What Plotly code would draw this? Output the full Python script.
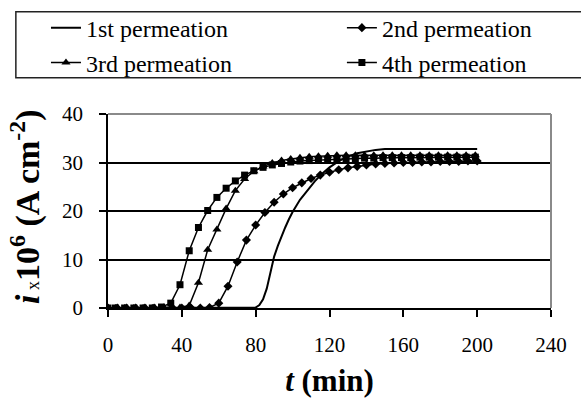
import plotly.graph_objects as go

# ---- data ----
t_sq_tri = [0, 4, 9, 14, 19, 24, 29, 34, 39, 44, 49, 54, 59, 64, 69, 74, 79, 84, 89, 94,
            99, 104, 109, 114, 119, 124, 129, 134, 139, 144, 149, 154, 159, 164, 169, 174,
            179, 184, 189, 194, 199]
t_dia = [0, 5, 10, 15, 20, 25, 30, 35, 40, 45, 50, 55, 60, 65, 70, 75, 80, 85, 90, 95, 100,
         105, 110, 115, 120, 125, 130, 135, 140, 145, 150, 155, 160, 165, 170, 175, 180, 185,
         190, 195, 200]
t_first = [0, 20, 40, 60, 78, 80, 82, 84, 86, 88, 90, 92, 94, 96, 98, 100, 104, 108, 112, 116,
           120, 125, 130, 135, 140, 145, 150, 160, 170, 180, 190, 200]

i_first = [0, 0, 0, 0, 0, 0.1, 0.6, 1.8, 4.0, 7.5, 10.6, 12.8, 14.8, 16.6, 18.3, 19.8, 22.3,
           24.3, 26.1, 27.7, 29.0, 30.3, 31.2, 31.9, 32.3, 32.6, 32.8, 32.8, 32.8, 32.8, 32.8,
           32.8]
i_second = [0, 0, 0, 0, 0, 0, 0, 0, 0, 0, 0, 0.1, 1.0, 4.5, 9.5, 14.0, 17.1, 19.7, 21.8, 23.5,
            24.8, 25.8, 26.7, 27.4, 28.0, 28.5, 28.9, 29.2, 29.5, 29.7, 29.8, 29.9, 30.0, 30.0,
            30.1, 30.1, 30.2, 30.2, 30.2, 30.3, 30.3]
i_third = [0, 0, 0, 0, 0, 0, 0, 0, 0.1, 0.5, 5.2, 12.0, 16.2, 20.5, 24.2, 26.6, 28.2, 29.2,
           29.9, 30.4, 30.7, 31.0, 31.2, 31.3, 31.4, 31.5, 31.5, 31.5, 31.5, 31.5, 31.5, 31.5,
           31.5, 31.5, 31.5, 31.5, 31.5, 31.5, 31.5, 31.5, 31.5]
i_fourth = [0, 0, 0, 0, 0, 0, 0.2, 1.0, 4.8, 11.8, 16.6, 20.1, 22.8, 24.7, 26.2, 27.4, 28.3,
            29.0, 29.5, 29.8, 30.1, 30.3, 30.4, 30.5, 30.6, 30.7, 30.8, 30.8, 30.9, 30.9, 31.0,
            31.0, 31.0, 31.0, 31.1, 31.1, 31.1, 31.1, 31.1, 31.1, 31.1]

names = ["1st permeation", "2nd permeation", "3rd permeation", "4th permeation"]
x_ticks = [0, 40, 80, 120, 160, 200, 240]
y_ticks = [0, 10, 20, 30, 40]

FONT = "Liberation Serif, serif"

fig = go.Figure()
fig.add_trace(go.Scatter(x=t_first, y=i_first, mode="lines", name=names[0],
                         line=dict(color="black", width=2), legend="legend",
                         showlegend=True))
fig.add_trace(go.Scatter(x=t_dia, y=i_second, mode="lines+markers", name=names[1],
                         line=dict(color="black", width=1.5),
                         marker=dict(symbol="diamond", size=7, color="black"), legend="legend2",
                         showlegend=True))
fig.add_trace(go.Scatter(x=t_sq_tri, y=i_third, mode="lines+markers", name=names[2],
                         line=dict(color="black", width=1.5),
                         marker=dict(symbol="triangle-up", size=8, color="black"), legend="legend3",
                         showlegend=True))
fig.add_trace(go.Scatter(x=t_sq_tri, y=i_fourth, mode="lines+markers", name=names[3],
                         line=dict(color="black", width=1.5),
                         marker=dict(symbol="square", size=7, color="black"), legend="legend4",
                         showlegend=True))

leg_common = dict(font=dict(family=FONT, size=24, color="black"), visible=True,
                  bgcolor="rgba(0,0,0,0)", borderwidth=0, xanchor="left", yanchor="middle")
col1_x, col2_x = -0.14, 0.528
row1_y, row2_y = 1.443, 1.263

fig.update_layout(
    width=581, height=398,
    showlegend=True,
    margin=dict(l=108, r=30, t=114, b=90, autoexpand=False),
    paper_bgcolor="white", plot_bgcolor="white",
    font=dict(family=FONT, color="black"),
    legend=dict(**leg_common, x=col1_x, y=row1_y),
    legend2=dict(**leg_common, x=col2_x, y=row1_y),
    legend3=dict(**leg_common, x=col1_x, y=row2_y),
    legend4=dict(**leg_common, x=col2_x, y=row2_y),
    xaxis=dict(range=[0, 240], tickvals=x_ticks, ticks="outside", ticklen=7, tickwidth=1.5,
               tickcolor="black", showline=True, linecolor="black", linewidth=1.5,
               showgrid=False, zeroline=False, tickfont=dict(family=FONT, size=21),
               ticklabelstandoff=10, automargin=False,
               title=dict(text="<b><i>t</i> (min)</b>", font=dict(family=FONT, size=31),
                          standoff=26)),
    yaxis=dict(range=[0, 40], tickvals=y_ticks, ticks="outside", ticklen=7, tickwidth=1.5,
               tickcolor="black", showline=True, linecolor="black", linewidth=1.5,
               showgrid=True, gridcolor="black", gridwidth=1.5, zeroline=False,
               tickfont=dict(family=FONT, size=21), ticklabelstandoff=12, automargin=False,
               title=dict(text="&nbsp;<b><i>i</i></b><span style='font-size:18px'> x</span>"
                               "<b>10<sup>6</sup> (A cm<sup>-2</sup>)</b>",
                          font=dict(family=FONT, size=34), standoff=12)),
    shapes=[
        dict(type="line", xref="paper", yref="paper", x0=0, x1=1, y0=1, y1=1,
             line=dict(color="#8a8a8a", width=2), layer="above"),
        dict(type="line", xref="paper", yref="paper", x0=1, x1=1, y0=0, y1=1,
             line=dict(color="#8a8a8a", width=2), layer="above"),
        dict(type="rect", xref="paper", yref="paper", x0=-0.208, x1=1.2, y0=1.187, y1=1.527,
             line=dict(color="#222222", width=1.5), layer="above"),
    ],
)

fig.write_html("out.html")
